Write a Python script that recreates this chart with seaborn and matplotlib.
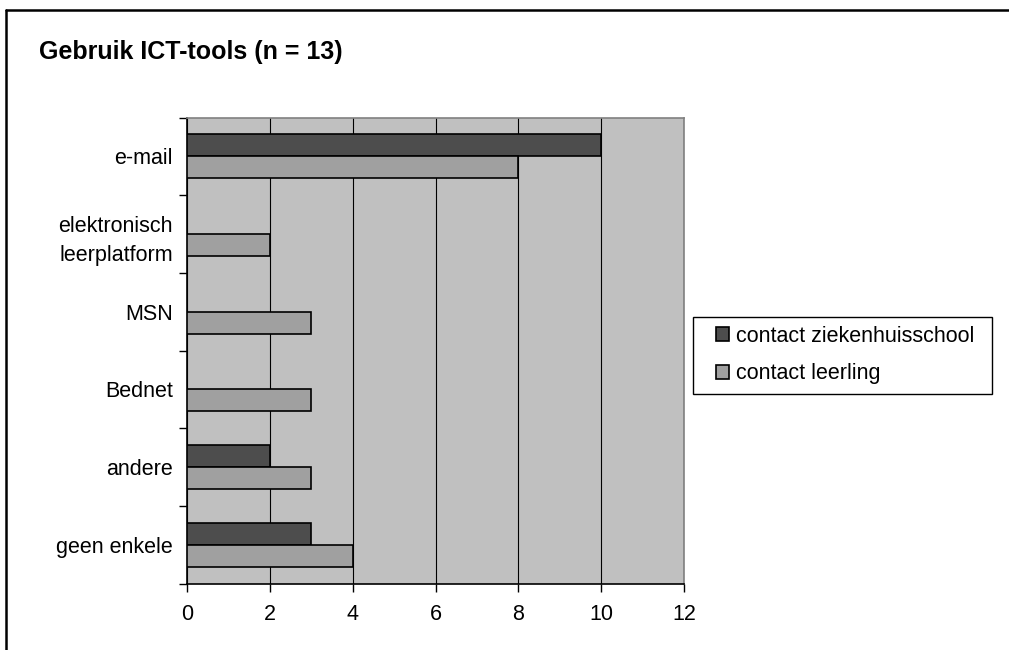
import matplotlib
matplotlib.use("Agg")
import matplotlib.pyplot as plt
from matplotlib.lines import Line2D
from matplotlib.patches import Rectangle
from matplotlib.ticker import FixedLocator, NullFormatter
import seaborn as sns
import pandas as pd

# Survey data: use of ICT tools (n = 13)
tools = ["e-mail", "elektronisch\nleerplatform", "MSN", "Bednet", "andere", "geen enkele"]
series_names = ["contact ziekenhuisschool", "contact leerling"]
ziekenhuisschool = [10, 0, 0, 0, 2, 3]
leerling = [8, 2, 3, 3, 3, 4]
x_ticks = [0, 2, 4, 6, 8, 10, 12]

df = pd.DataFrame({
    "tool": tools * 2,
    "aantal": ziekenhuisschool + leerling,
    "contact": [series_names[0]] * len(tools) + [series_names[1]] * len(tools),
})

sns.set_style("white")
plt.rcParams["font.family"] = ["Liberation Sans", "DejaVu Sans"]
plt.rcParams["text.color"] = "black"
plt.rcParams["xtick.color"] = "black"
plt.rcParams["ytick.color"] = "black"

dark, light, plot_bg = "#4D4D4D", "#A0A0A0", "#C0C0C0"
fs = 15.5
W, H = 1009, 650

fig = plt.figure(figsize=(W / 100, H / 100), dpi=100)
ax = fig.add_axes([187 / W, 1 - 583.5 / H, (684 - 187) / W, (583.5 - 117.5) / H])
ax.set_facecolor(plot_bg)

sns.barplot(
    data=df, y="tool", x="aantal", hue="contact", order=tools, hue_order=series_names,
    orient="h", palette=[dark, light], saturation=1, width=0.57,
    edgecolor="black", linewidth=1.2, legend=False, ax=ax, zorder=3,
)

ax.set_xlim(0, 12)
ax.set_ylim(len(tools) - 0.5, -0.5)
ax.set_xticks(x_ticks)
ax.set_xticklabels([str(v) for v in x_ticks], fontsize=fs)
ax.set_xlabel("")
ax.set_ylabel("")

# vertical gridlines at the major x ticks
ax.xaxis.grid(True, color="black", linewidth=0.8)
ax.set_axisbelow(True)

# category labels at centres, tick marks at category boundaries
ax.set_yticks(range(len(tools)))
ax.set_yticklabels(tools, fontsize=fs, multialignment="center", linespacing=1.5)
ax.yaxis.set_minor_locator(FixedLocator([i - 0.5 for i in range(len(tools) + 1)]))
ax.yaxis.set_minor_formatter(NullFormatter())
ax.tick_params(axis="y", which="major", left=False, length=0, pad=10)
ax.tick_params(axis="y", which="minor", left=True, length=6, width=1, direction="out")
ax.tick_params(axis="x", which="major", bottom=True, length=6, width=1, direction="out", pad=8.5)

for side in ("left", "bottom"):
    ax.spines[side].set_color("black")
    ax.spines[side].set_linewidth(1.2)
for side in ("top", "right"):
    ax.spines[side].set_color("#808080")
    ax.spines[side].set_linewidth(1.2)

# title
fig.text(39 / W, 1 - 59 / H, "Gebruik ICT-tools (n = 13)", fontsize=18,
         fontweight="bold", ha="left", va="baseline")

# legend with a plain rectangular frame
fig.add_artist(Rectangle((693 / W, 1 - 394 / H), (992 - 693) / W, (394 - 317) / H,
                         transform=fig.transFigure, facecolor="white",
                         edgecolor="black", linewidth=1.0, zorder=4))
handles = [Rectangle((0, 0), 1, 1, facecolor=c, edgecolor="black", linewidth=1.2)
           for c in (dark, light)]
leg = fig.legend(
    handles, series_names, loc="upper left", bbox_to_anchor=(716 / W, 1 - 326 / H),
    fontsize=fs, frameon=False, borderpad=0, labelspacing=0.75,
    handlelength=0.62, handleheight=0.62, handletextpad=0.3, borderaxespad=0,
)
leg.set_zorder(5)

# outer chart frame (left and top edges)
fig.add_artist(Line2D([5.5 / W, 5.5 / W], [0, 1 - 10 / H], color="black", linewidth=1.8))
fig.add_artist(Line2D([5.5 / W, 1], [1 - 10 / H, 1 - 10 / H], color="black", linewidth=1.8))

fig.savefig("out.png", dpi=100)
